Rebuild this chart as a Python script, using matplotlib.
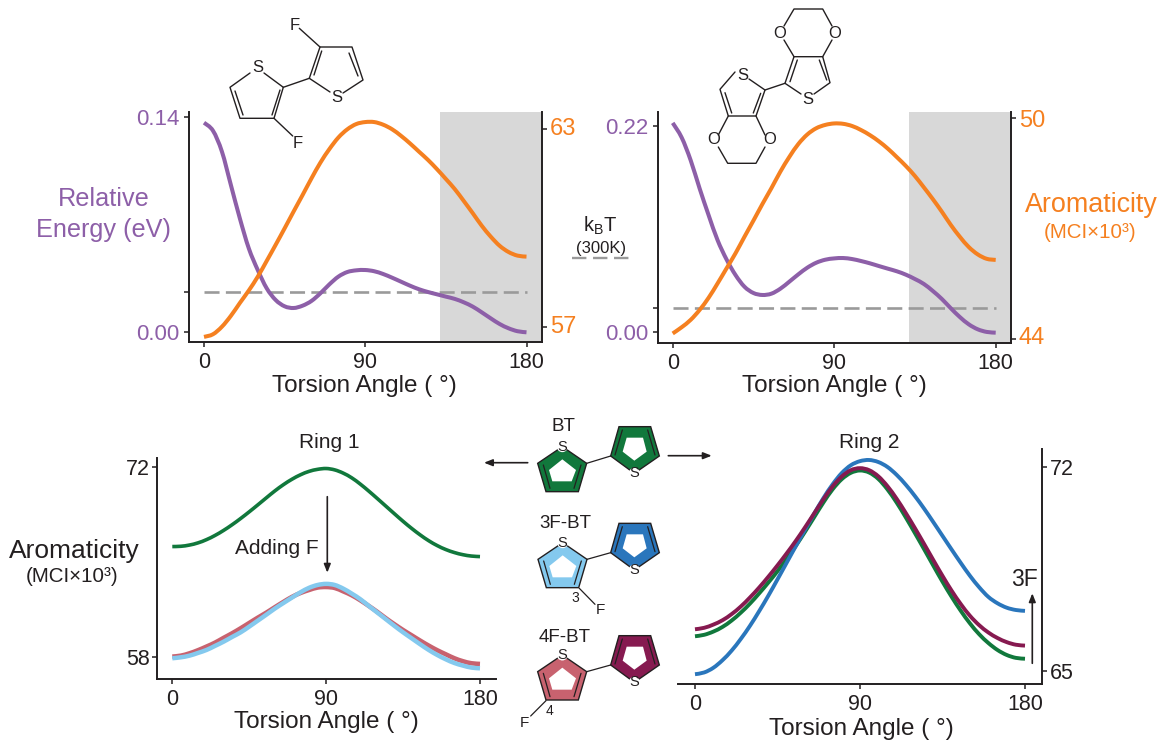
import matplotlib
matplotlib.use('Agg')
import matplotlib.pyplot as plt
from matplotlib.patches import Polygon, Circle, PathPatch
from matplotlib.path import Path
from matplotlib.transforms import ScaledTranslation

plt.rcParams['font.family'] = ['Liberation Sans', 'DejaVu Sans']
plt.rcParams['mathtext.fontset'] = 'custom'
plt.rcParams['mathtext.rm'] = 'Liberation Sans'

W, H = 1159, 742
INK = '#231f20'
PURPLE = '#8d5fa8'
ORANGE = '#f58020'
GREEN = '#11783c'
BLUE = '#2a76bc'
SKY = '#84c9ee'
PINK = '#c8626f'
MAROON = '#861a50'
DASH = '#9a9a9a'
SHADE = '#d8d8d8'

angle = list(range(0, 185, 5))
xticks = [0, 90, 180]

energy_f = [.1363, .1311, .1175, .0958, .0741, .0546, .0405, .0286, .0210, .0169, .0158, .0173, .0204,
            .0254, .0312, .0362, .0392, .0403, .0405, .0397, .0379, .0355, .0329, .0303, .0280, .0262,
            .0247, .0232, .0217, .0195, .0167, .0130, .0091, .0054, .0026, .0007, 0]
arom_f = [56.69, 56.77, 57.00, 57.33, 57.72, 58.10, 58.52, 59.00, 59.49, 59.99, 60.50, 61.00, 61.51,
          61.99, 62.40, 62.75, 63.00, 63.16, 63.22, 63.22, 63.14, 63.00, 62.80, 62.57, 62.32, 62.07,
          61.79, 61.49, 61.18, 60.82, 60.45, 60.07, 59.74, 59.46, 59.27, 59.16, 59.13]
energy_edot = [.2233, .2077, .1835, .1534, .1250, .0983, .0777, .0611, .0486, .0419, .0398, .0412, .0465,
               .0540, .0618, .0689, .0742, .0774, .0788, .0792, .0781, .0760, .0735, .0706, .0678, .0650,
               .0614, .0568, .0515, .0440, .0355, .0256, .0163, .0085, .0032, .0004, -.0004]
arom_edot = [44.15, 44.32, 44.52, 44.79, 45.12, 45.51, 45.92, 46.33, 46.78, 47.22, 47.67, 48.10, 48.55,
             48.95, 49.30, 49.56, 49.73, 49.82, 49.86, 49.85, 49.79, 49.68, 49.54, 49.37, 49.17, 48.94,
             48.70, 48.43, 48.12, 47.80, 47.46, 47.10, 46.78, 46.50, 46.30, 46.18, 46.15]
kbt_f = 0.026
kbt_edot = 0.0256

ring1_bt = [66.16, 66.18, 66.27, 66.43, 66.67, 66.98, 67.35, 67.77, 68.23, 68.72, 69.23, 69.75, 70.26,
            70.72, 71.12, 71.45, 71.70, 71.85, 71.91, 71.81, 71.57, 71.22, 70.76, 70.24, 69.69, 69.13,
            68.57, 68.02, 67.50, 67.02, 66.59, 66.23, 65.94, 65.72, 65.56, 65.46, 65.42]
ring1_4f = [58.05, 58.12, 58.29, 58.52, 58.79, 59.08, 59.43, 59.77, 60.14, 60.53, 60.92, 61.29, 61.69,
            62.08, 62.45, 62.74, 62.96, 63.14, 63.18, 63.11, 62.86, 62.57, 62.20, 61.78, 61.34, 60.87,
            60.43, 60.01, 59.62, 59.23, 58.86, 58.52, 58.22, 57.93, 57.71, 57.56, 57.51]
ring1_3f = [57.93, 58.00, 58.12, 58.32, 58.54, 58.84, 59.15, 59.50, 59.84, 60.26, 60.70, 61.14, 61.59,
            62.00, 62.40, 62.79, 63.12, 63.33, 63.41, 63.33, 63.06, 62.69, 62.28, 61.78, 61.29, 60.80,
            60.31, 59.84, 59.40, 58.96, 58.54, 58.17, 57.85, 57.58, 57.39, 57.24, 57.19]

ring2_bt = [66.19, 66.24, 66.35, 66.51, 66.73, 67.00, 67.31, 67.66, 68.03, 68.42, 68.84, 69.29, 69.77,
            70.27, 70.77, 71.22, 71.57, 71.79, 71.87, 71.80, 71.58, 71.22, 70.77, 70.26, 69.72, 69.17,
            68.61, 68.06, 67.54, 67.06, 66.63, 66.26, 65.96, 65.72, 65.55, 65.45, 65.42]
ring2_4f = [66.43, 66.48, 66.59, 66.74, 66.95, 67.21, 67.52, 67.86, 68.23, 68.62, 69.03, 69.46, 69.92,
            70.40, 70.88, 71.32, 71.66, 71.88, 71.95, 71.88, 71.67, 71.33, 70.90, 70.41, 69.89, 69.35,
            68.80, 68.26, 67.75, 67.29, 66.89, 66.57, 66.32, 66.13, 65.99, 65.90, 65.87]
ring2_3f = [64.89, 64.95, 65.11, 65.37, 65.70, 66.10, 66.55, 67.05, 67.58, 68.14, 68.71, 69.28, 69.84,
            70.39, 70.92, 71.39, 71.78, 72.05, 72.19, 72.23, 72.16, 71.99, 71.72, 71.38, 70.99, 70.56,
            70.10, 69.63, 69.16, 68.70, 68.26, 67.87, 67.54, 67.32, 67.17, 67.09, 67.06]


def curve(ax, x, y, color, lw, zorder=3):
    # bezier path through the read points, so the 5 degree steps do not show as corners
    verts = [(x[0], y[0])]
    codes = [Path.MOVETO]
    n = len(x)
    for i in range(n - 1):
        a = max(i - 1, 0)
        b = min(i + 2, n - 1)
        verts.append((x[i] + (x[i + 1] - x[a]) / 6, y[i] + (y[i + 1] - y[a]) / 6))
        verts.append((x[i + 1] - (x[b] - x[i]) / 6, y[i + 1] - (y[b] - y[i]) / 6))
        verts.append((x[i + 1], y[i + 1]))
        codes += [Path.CURVE4] * 3
    ax.add_patch(PathPatch(Path(verts, codes), fill=False, ec=color, lw=lw, capstyle='butt', zorder=zorder))


def make_axes(fig, box, x_cal):
    # box is left, right, top, bottom in pixels, x_cal the pixels of 0 and 180 degrees
    l, r, t, b = box
    ax = fig.add_axes([l / W, 1 - b / H, (r - l) / W, (b - t) / H])
    k = (x_cal[1] - x_cal[0]) / 180
    ax.set_xlim((l - x_cal[0]) / k, (r - x_cal[0]) / k)
    ax.patch.set_alpha(0)
    for s in ax.spines.values():
        s.set_visible(False)
        s.set_linewidth(1.4)
        s.set_color(INK)
    ax.tick_params(length=3.5, width=1.1, color=INK, labelsize=15.5, labelcolor=INK, pad=4)
    ax.set_xticks(xticks)
    return ax


def set_y(ax, box, p0, v0, p1, v1):
    # two pixel rows with known values fix the y scale
    l, r, t, b = box
    k = (v1 - v0) / (p1 - p0)
    ax.set_ylim(v0 + (b - p0) * k, v0 + (t - p0) * k)


def top_panel(fig, box, x_cal, energy, arom, kbt, e_cal, a_cal, e_ticks, e_labels, a_ticks, shade_from, shift):
    ax = make_axes(fig, box, x_cal)
    set_y(ax, box, *e_cal)
    ax.spines['left'].set_visible(True)
    ax.spines['bottom'].set_visible(True)
    ax.axvspan(shade_from, ax.get_xlim()[1], color=SHADE, lw=0, zorder=0)
    ax.set_yticks(e_ticks, labels=e_labels)
    ax.tick_params(axis='y', labelcolor=PURPLE, labelsize=16, pad=3)
    ax.set_xticklabels(['0', '90', '180'])
    curve(ax, angle, energy, PURPLE, 2.9)
    ax.plot([0, 180], [kbt, kbt], color=DASH, lw=1.9, dashes=(5.7, 2.4), zorder=2)

    ax2 = ax.twinx()
    make_right(ax2, box, a_cal, a_ticks, ORANGE, 17)
    curve(ax2, angle, arom, ORANGE, 2.9)
    # the orange labels sit a little above their ticks
    for lab, px in zip(ax2.get_yticklabels(), shift):
        lab.set_transform(lab.get_transform() + ScaledTranslation(0, px / 100, fig.dpi_scale_trans))
    return ax


def make_right(ax, box, cal, ticks, color, size):
    set_y(ax, box, *cal)
    ax.patch.set_alpha(0)
    for s in ax.spines.values():
        s.set_visible(False)
        s.set_linewidth(1.4)
        s.set_color(INK)
    ax.spines['right'].set_visible(True)
    ax.yaxis.tick_right()
    ax.set_yticks(ticks, labels=[str(v) for v in ticks])
    ax.tick_params(axis='y', length=3.5, width=1.1, color=INK, labelcolor=color, labelsize=size, pad=2)


def seg(ov, pts, lw=1.0, color=INK):
    ov.plot([p[0] for p in pts], [p[1] for p in pts], color=color, lw=lw, solid_capstyle='round', zorder=5)


def atom(ov, x, y, s, size=12):
    ov.text(x, y, s, ha='center', va='center', fontsize=size, color=INK, zorder=6)


def arrow(ov, a, b):
    ov.annotate('', xy=b, xytext=a, xycoords='data', textcoords='data', zorder=6,
                arrowprops=dict(arrowstyle='-|>,head_width=0.2,head_length=0.5', color=INK, lw=1.2,
                                shrinkA=0, shrinkB=0))


def zp(x, y, dx=0, dy=0):
    # coordinates were taken from the 3x crop of the middle column
    return (480 + (x + dx) / 3, 410 + (y + dy) / 3)


def filled_ring(ov, outer, inner, doubles, color, s_pos, dx, dy):
    ov.add_patch(Polygon([zp(*p, dx, dy) for p in outer], closed=True, fc=color, ec=INK, lw=1.0, zorder=4))
    ov.add_patch(Polygon([zp(*p, dx, dy) for p in inner], closed=True, fc='white', ec='none', zorder=5))
    for d in doubles:
        seg(ov, [zp(*p, dx, dy) for p in d], lw=0.9)
    cx, cy = zp(*s_pos, dx, dy)
    ov.add_patch(Circle((cx, cy), 5.5, fc='white', ec='none', zorder=5))
    atom(ov, cx, cy, 'S', 10.5)


LEFT_OUTER = [(247, 110), (320, 160), (295, 245), (198, 245), (173, 160)]
LEFT_INNER = [(247, 148), (288, 180), (275, 214), (217, 214), (207, 180)]
LEFT_DOUBLE = [[(190, 165), (210, 235)], [(303, 165), (282, 235)]]
RIGHT_OUTER = [(463, 190), (392, 138), (417, 50), (512, 50), (538, 138)]
RIGHT_INNER = [(463, 152), (428, 125), (440, 83), (489, 83), (500, 125)]
RIGHT_DOUBLE = [[(405, 135), (427, 60)], [(525, 135), (503, 60)]]


def bithiophene(ov, c_left, c_right, ldx, ldy, rdy):
    seg(ov, [zp(320, 160, ldx, ldy), zp(392, 138, 0, rdy)], lw=0.9)
    filled_ring(ov, LEFT_OUTER, LEFT_INNER, LEFT_DOUBLE, c_left, (247, 110), ldx, ldy)
    filled_ring(ov, RIGHT_OUTER, RIGHT_INNER, RIGHT_DOUBLE, c_right, (463, 190), 0, rdy)


def draw_molecules(ov):
    # difluoro bithiophene, top left
    seg(ov, [(264, 73), (283.3, 87.3), (274, 118.3), (240, 118.3), (230, 87.3), (250, 73)])
    seg(ov, [(280, 90), (272, 115)])
    seg(ov, [(235, 91), (243, 115)])
    seg(ov, [(283.3, 87.3), (309.3, 78.3), (330, 92)])
    seg(ov, [(343, 93), (363, 80), (352, 47), (320, 47), (309.3, 78.3)])
    seg(ov, [(321.7, 51), (314, 75)])
    seg(ov, [(349, 53), (358, 76)])
    seg(ov, [(299.3, 28.3), (320, 47)])
    seg(ov, [(274, 118.3), (292.7, 136)])
    atom(ov, 257.3, 68, 'S')
    atom(ov, 336.5, 98, 'S')
    atom(ov, 295, 25, 'F')
    atom(ov, 298, 144, 'F')

    # EDOT dimer, top right
    seg(ov, [(735, 72), (720, 89.3), (728.3, 116), (756, 116), (765, 90), (749, 79)])
    seg(ov, [(725, 92.7), (731.7, 113)])
    seg(ov, [(760.7, 93.3), (753.3, 113)])
    seg(ov, [(728.3, 116), (718.3, 135)])
    seg(ov, [(718.3, 147), (727.7, 163.3), (756, 163.3), (765, 147)])
    seg(ov, [(765, 135), (756, 116)])
    seg(ov, [(765, 90), (785, 83.3), (801, 94)])
    seg(ov, [(814, 94), (830, 82.7), (822.7, 56.7), (794, 56.7), (785, 83.3)])
    seg(ov, [(797.3, 60), (790, 81.7)])
    seg(ov, [(819.3, 60), (826.7, 80)])
    seg(ov, [(794, 56.7), (784, 40)])
    seg(ov, [(784, 26), (794, 9), (822.7, 9), (832, 26)])
    seg(ov, [(832, 40), (822.7, 56.7)])
    atom(ov, 742.7, 75, 'S')
    atom(ov, 807.3, 99, 'S')
    atom(ov, 780, 33, 'O')
    atom(ov, 835, 33, 'O')
    atom(ov, 714, 140, 'O')
    atom(ov, 769.3, 140, 'O')

    # coloured rings in the middle column
    bithiophene(ov, GREEN, GREEN, 0, 0, 0)
    bithiophene(ov, SKY, BLUE, 1, 288, 290)
    bithiophene(ov, PINK, MAROON, 0, 625, 627)
    seg(ov, [zp(298, 535), zp(345, 583)], lw=0.9)
    seg(ov, [zp(198, 872), zp(152, 918)], lw=0.9)
    atom(ov, *zp(362, 600), 'F', 11)
    atom(ov, *zp(133, 938), 'F', 11)
    atom(ov, *zp(285, 565), '3', 10)
    atom(ov, *zp(208, 902), '4', 10)
    atom(ov, *zp(250, 50), 'BT', 13.5)
    atom(ov, *zp(255, 340), '3F-BT', 13.5)
    atom(ov, *zp(253, 682), '4F-BT', 13.5)


def main():
    fig = plt.figure(figsize=(W / 100, H / 100), dpi=100)

    # top panels
    top_panel(fig, (188.5, 542, 112, 342), (204, 526.5), energy_f, arom_f, kbt_f,
              (332.3, 0, 117, 0.14), (326.7, 57, 129.3, 63),
              [0, kbt_f, 0.14], ['0.00', '', '0.14'], [57, 63], 131.6, (2, 3))
    top_panel(fig, (657.5, 1011, 112, 343), (672.7, 995.7), energy_edot, arom_edot, kbt_edot,
              (332.3, 0, 126, 0.22), (339, 44, 118.3, 50),
              [0, kbt_edot, 0.22], ['0.00', '', '0.22'], [44, 50], 131.9, (3, 0))

    # ring 1
    box = (157, 495.5, 458, 678.7)
    ax = make_axes(fig, box, (172.3, 480))
    set_y(ax, box, 657.3, 58, 467.3, 72)
    ax.spines['left'].set_visible(True)
    ax.spines['bottom'].set_visible(True)
    ax.set_yticks([58, 72], labels=['58', '72'])
    ax.tick_params(axis='y', pad=1.5)
    curve(ax, angle, ring1_bt, GREEN, 2.6)
    curve(ax, angle, ring1_4f, PINK, 3.3)
    curve(ax, angle, ring1_3f, SKY, 3.2)

    # ring 2
    box = (678, 1042, 449, 684)
    ax = make_axes(fig, box, (695, 1025))
    ax.spines['bottom'].set_visible(True)
    ax.set_yticks([])
    ax2 = ax.twinx()
    make_right(ax2, box, (671, 65, 466.7, 72), [65, 72], INK, 15.5)
    curve(ax2, angle, ring2_bt, GREEN, 2.8)
    curve(ax2, angle, ring2_3f, BLUE, 2.8)
    curve(ax2, angle, ring2_4f, MAROON, 2.8)

    # everything that is not on a chart scale goes on a pixel overlay
    ov = fig.add_axes([0, 0, 1, 1], zorder=10)
    ov.set_xlim(0, W)
    ov.set_ylim(H, 0)
    ov.axis('off')

    for x, y in [(364, 386), (834, 386), (326, 722), (861, 729)]:
        ov.text(x, y, 'Torsion Angle ( °)', ha='center', va='center', fontsize=17.5, color=INK)

    ov.text(104, 199, 'Relative', ha='center', va='center', fontsize=18.2, color=PURPLE)
    ov.text(104, 230, 'Energy (eV)', ha='center', va='center', fontsize=18.2, color=PURPLE)
    ov.text(1091, 205, 'Aromaticity', ha='center', va='center', fontsize=19.4, color=ORANGE)
    ov.text(1090, 232, '(MCI×10³)', ha='center', va='center', fontsize=14.8, color=ORANGE)
    ov.text(74, 551, 'Aromaticity', ha='center', va='center', fontsize=19, color=INK)
    ov.text(72, 577, '(MCI×10³)', ha='center', va='center', fontsize=14.8, color=INK)
    ov.text(329, 443, 'Ring 1', ha='center', va='center', fontsize=15, color=INK)
    ov.text(869, 443, 'Ring 2', ha='center', va='center', fontsize=15, color=INK)
    ov.text(277, 548, 'Adding F', ha='center', va='center', fontsize=15, color=INK)
    ov.text(1024, 580, '3F', ha='center', va='center', fontsize=16.5, color=INK)

    ov.text(600, 226, 'k$_{\\mathrm{B}}$T', ha='center', va='center', fontsize=14.5, color=INK)
    ov.text(601, 248, '(300K)', ha='center', va='center', fontsize=12, color=INK)
    ov.plot([572, 629], [258, 258], color=DASH, lw=1.7, dashes=(6.1, 2.8))

    arrow(ov, (527.7, 462.7), (484, 462.7))
    arrow(ov, (668.3, 455.7), (711.7, 455.7))
    arrow(ov, (327.3, 496.7), (327.3, 572.7))
    arrow(ov, (1032.3, 663.3), (1032.3, 593.3))

    draw_molecules(ov)

    fig.savefig('out.png', dpi=100)


if __name__ == '__main__':
    main()
